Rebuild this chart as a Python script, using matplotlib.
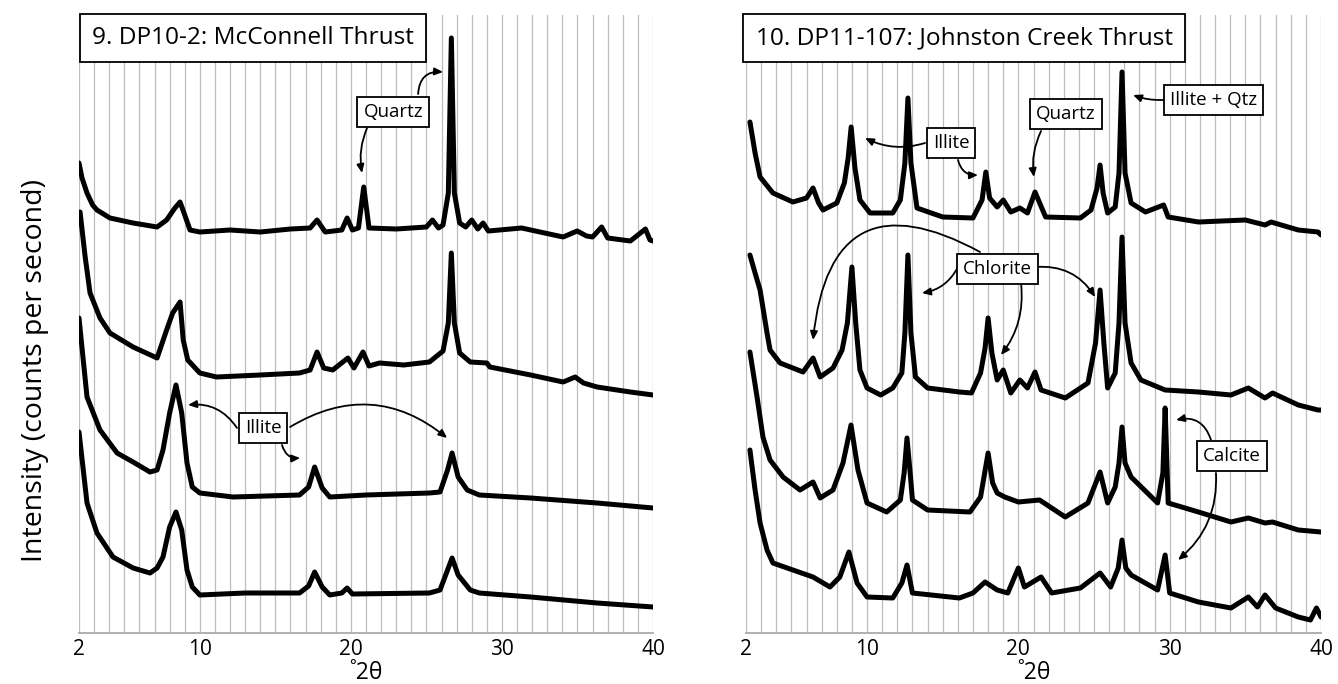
import matplotlib
matplotlib.use("Agg")
import matplotlib.pyplot as plt
from matplotlib.patches import FancyArrowPatch

plt.rcParams['font.family'] = ['Open Sans', 'DejaVu Sans']

# 2-theta ticks shared by both panels
tick_pos = [2, 10, 20, 30, 40]
tick_lbl = ['2', '10', '20', '30', '40']

# --- 9. DP10-2: McConnell Thrust (traces top to bottom, offset intensity) ---
mc1_x = [2.0, 2.2, 2.53, 2.9, 3.19, 4.05, 5.58, 7.17, 7.8, 8.35, 8.69, 9.0, 9.35, 10.0,
         12.0, 14.0, 16.0, 17.3, 17.76, 18.3, 19.4, 19.75, 20.1, 20.5, 20.85, 21.2, 23.0,
         25.0, 25.4, 25.8, 26.1, 26.45, 26.65, 26.85, 27.2, 27.6, 28.0, 28.4, 28.75, 29.1,
         31.3, 34.05, 34.98, 35.6, 36.0, 36.6, 37.0, 38.5, 39.5, 39.8, 40.0]
mc1_y = [470, 455, 440, 428, 423, 415, 410, 406, 413, 425, 431, 418, 403, 401,
         403, 401, 404, 405, 413, 401, 403, 415, 403, 405, 446, 405, 404,
         406, 413, 405, 408, 440, 595, 440, 410, 406, 413, 404, 410, 402,
         405, 396, 402, 397, 396, 406, 395, 392, 404, 393, 392]

mc2_x = [2.07, 2.4, 2.73, 3.39, 4.05, 5.58, 7.17, 7.8, 8.2, 8.69, 8.9, 9.2, 10.0, 11.1,
         14.0, 16.6, 17.3, 17.76, 18.2, 18.8, 19.8, 20.2, 20.8, 21.2, 21.9, 23.5, 25.2,
         26.1, 26.45, 26.65, 26.85, 27.2, 27.9, 29.0, 29.2, 31.9, 34.05, 34.85, 35.4,
         36.3, 38.5, 40.0]
mc2_y = [421, 377, 340, 315, 300, 286, 275, 303, 320, 331, 293, 273, 260, 256,
         258, 260, 263, 281, 265, 263, 275, 265, 281, 267, 270, 268, 271,
         282, 310, 380, 310, 280, 271, 270, 266, 258, 251, 256, 250,
         246, 241, 238]

mc3_x = [2.0, 2.53, 3.39, 4.52, 5.58, 6.7, 7.17, 7.56, 8.0, 8.42, 8.8, 9.15, 9.5, 10.0,
         12.2, 16.6, 17.2, 17.6, 18.1, 18.6, 21.0, 25.2, 25.9, 26.4, 26.7, 27.1, 27.7,
         28.5, 31.9, 36.3, 40.0]
mc3_y = [315, 236, 203, 180, 171, 161, 163, 183, 220, 248, 220, 170, 146, 140,
         136, 138, 146, 166, 145, 136, 138, 140, 141, 163, 180, 156, 143,
         138, 135, 130, 125]

mc4_x = [2.0, 2.53, 3.19, 4.25, 5.58, 6.7, 7.17, 7.56, 8.0, 8.42, 8.8, 9.15, 9.5, 10.0,
         13.0, 16.6, 17.2, 17.6, 18.1, 18.6, 19.4, 19.75, 20.1, 25.2, 25.9, 26.4, 26.7,
         27.1, 27.9, 28.5, 31.9, 36.3, 40.0]
mc4_y = [201, 130, 100, 76, 65, 60, 65, 76, 106, 121, 103, 63, 46, 38,
         40, 40, 47, 61, 46, 38, 40, 45, 39, 40, 43, 63, 75,
         58, 43, 40, 36, 30, 26]

# --- 10. DP11-107: Johnston Creek Thrust ---
jc1_x = [2.26, 2.6, 2.93, 3.78, 5.1, 6.0, 6.43, 6.8, 7.09, 8.0, 8.5, 8.75, 8.95, 9.2,
         9.53, 10.2, 11.7, 12.2, 12.5, 12.7, 12.9, 13.3, 15.0, 17.0, 17.6, 17.85, 18.1,
         18.6, 19.0, 19.5, 20.1, 20.6, 21.1, 21.8, 24.1, 24.8, 25.2, 25.4, 25.6, 25.9,
         26.4, 26.65, 26.85, 27.05, 27.45, 28.4, 29.6, 29.9, 31.9, 35.0, 36.3, 36.7,
         38.5, 39.8, 40.0]
jc1_y = [511, 480, 456, 440, 431, 435, 445, 430, 423, 430, 450, 475, 506, 465,
         433, 420, 420, 433, 470, 535, 470, 425, 416, 415, 433, 461, 435,
         426, 433, 421, 425, 420, 441, 416, 415, 423, 445, 468, 440, 420,
         426, 460, 561, 460, 430, 421, 428, 416, 411, 413, 408, 411,
         403, 401, 398]

jc2_x = [2.26, 2.6, 2.93, 3.39, 3.59, 4.25, 5.1, 5.77, 6.43, 6.9, 7.75, 8.35, 8.7, 9.0,
         9.25, 9.53, 10.0, 10.9, 11.7, 12.3, 12.5, 12.7, 12.9, 13.2, 14.0, 16.1, 16.9,
         17.5, 17.8, 18.0, 18.25, 18.6, 19.0, 19.5, 20.1, 20.6, 21.1, 21.5, 23.1, 24.6,
         25.1, 25.4, 25.65, 25.9, 26.4, 26.65, 26.85, 27.05, 27.45, 28.1, 29.7, 31.9,
         34.05, 35.2, 36.3, 36.8, 38.5, 39.8, 40.0]
jc2_y = [378, 360, 343, 300, 283, 270, 265, 261, 275, 256, 265, 283, 310, 366,
         310, 263, 245, 238, 245, 260, 300, 378, 300, 256, 245, 241, 240,
         260, 285, 315, 280, 253, 263, 240, 253, 245, 261, 243, 235, 250,
         290, 343, 290, 245, 260, 310, 396, 310, 270, 253, 243, 241,
         238, 245, 235, 240, 228, 223, 223]

jc3_x = [2.26, 2.73, 3.12, 3.59, 4.45, 5.57, 6.43, 6.9, 7.75, 8.41, 8.94, 9.4, 10.0,
         11.3, 12.2, 12.45, 12.64, 12.85, 13.0, 14.0, 16.8, 17.5, 18.0, 18.3, 18.6,
         19.1, 20.0, 21.4, 23.1, 24.6, 25.4, 25.9, 26.4, 26.65, 26.85, 27.05, 27.45,
         29.0, 29.2, 29.55, 29.7, 29.9, 31.9, 34.05, 35.2, 36.3, 36.8, 38.5, 40.0]
jc3_y = [281, 236, 196, 173, 156, 143, 151, 135, 143, 170, 208, 163, 130,
         121, 133, 160, 195, 160, 133, 123, 121, 136, 180, 150, 140,
         136, 131, 133, 116, 130, 161, 130, 146, 170, 206, 170, 156,
         133, 130, 160, 225, 130, 121, 111, 115, 110, 111, 103, 101]

jc4_x = [2.26, 2.6, 2.93, 3.39, 3.78, 5.1, 6.43, 7.55, 8.2, 8.8, 9.34, 10.0, 11.7, 12.3,
         12.64, 13.0, 16.1, 17.0, 17.8, 18.6, 19.3, 20.0, 20.4, 21.5, 22.2, 24.1, 25.4,
         26.1, 26.6, 26.85, 27.1, 27.45, 29.2, 29.7, 30.0, 31.9, 34.05, 35.2, 35.8,
         36.3, 37.0, 38.5, 39.3, 39.7, 40.0]
jc4_y = [183, 143, 110, 83, 70, 63, 56, 46, 56, 81, 50, 36, 35, 50,
         68, 40, 35, 40, 51, 43, 40, 65, 46, 56, 40, 45, 60,
         46, 65, 93, 65, 58, 43, 78, 40, 31, 25, 36, 26,
         38, 25, 16, 13, 25, 16]

left_traces = [(mc1_x, mc1_y), (mc2_x, mc2_y), (mc3_x, mc3_y), (mc4_x, mc4_y)]
right_traces = [(jc1_x, jc1_y), (jc2_x, jc2_y), (jc3_x, jc3_y), (jc4_x, jc4_y)]

W, H = 1338, 684
fig = plt.figure(figsize=(W / 100, H / 100), dpi=100)
ax1 = fig.add_axes([79 / W, 51 / H, 574 / W, 618 / H])
ax2 = fig.add_axes([746 / W, 51 / H, 575 / W, 618 / H])


def setup(ax):
    ax.set_xlim(2, 40)
    ax.set_ylim(0, 618)
    for d in range(2, 41):
        ax.axvline(d, color='#bdbdbd', lw=0.9, zorder=0)
    for s in ['left', 'right', 'top']:
        ax.spines[s].set_visible(False)
    ax.spines['bottom'].set_color('#b0b0b0')
    ax.spines['bottom'].set_linewidth(1.4)
    ax.set_yticks([])
    ax.set_xticks(tick_pos)
    ax.set_xticklabels(tick_lbl, fontsize=15)
    ax.tick_params(axis='x', length=0, pad=4)
    ax.set_xlabel('˚2θ', fontsize=16.5, labelpad=1)


def box(ax, x, y, s, size=13.5):
    ax.text(x, y, s, fontsize=size, ha='center', va='center', zorder=5,
            bbox=dict(boxstyle='square,pad=0.32', fc='white', ec='black', lw=1.3))


def arrow(ax, start, end, rad):
    ax.add_patch(FancyArrowPatch(start, end, connectionstyle=f'arc3,rad={rad}',
                                 arrowstyle='-|>,head_length=5,head_width=2.2',
                                 color='black', lw=1.3, zorder=4, shrinkA=0, shrinkB=0))


for ax, traces in [(ax1, left_traces), (ax2, right_traces)]:
    setup(ax)
    for xs, ys in traces:
        ax.plot(xs, ys, color='black', lw=3.6, solid_joinstyle='round',
                solid_capstyle='round', zorder=3)

fig.text(35 / W, 1 - 370 / H, 'Intensity (counts per second)', fontsize=20.5,
         rotation=90, ha='center', va='center')

# panel titles
fig.text(253 / W, 1 - 38 / H, '9. DP10-2: McConnell Thrust', fontsize=17.6,
         ha='center', va='center',
         bbox=dict(boxstyle='square,pad=0.5', fc='white', ec='black', lw=1.3))
fig.text(964 / W, 1 - 38 / H, '10. DP11-107: Johnston Creek Thrust', fontsize=17.6,
         ha='center', va='center',
         bbox=dict(boxstyle='square,pad=0.5', fc='white', ec='black', lw=1.3))

# left panel labels
box(ax1, 22.8, 521, 'Quartz')
arrow(ax1, (24.45, 539), (26.1, 561), -0.5)
arrow(ax1, (21.07, 505), (20.74, 460), 0.15)
box(ax1, 14.19, 205, 'Illite')
arrow(ax1, (12.46, 205), (9.22, 228), 0.3)
arrow(ax1, (15.44, 188), (16.64, 175), 0.4)
arrow(ax1, (15.97, 206), (26.37, 195), -0.35)

# right panel labels
box(ax2, 15.55, 490, 'Illite')
arrow(ax2, (13.83, 490), (9.87, 495), -0.2)
arrow(ax2, (16.01, 473), (17.33, 458), 0.4)
box(ax2, 23.15, 519, 'Quartz')
arrow(ax2, (21.5, 502), (21.03, 456), 0.15)
box(ax2, 32.87, 533, 'Illite + Qtz')
arrow(ax2, (29.56, 533), (27.58, 538), -0.1)
box(ax2, 18.59, 364, 'Chlorite')
arrow(ax2, (17.47, 381), (6.43, 293), 0.75)
arrow(ax2, (16.01, 366), (13.63, 340), -0.25)
arrow(ax2, (21.1, 366), (25.07, 336), -0.3)
arrow(ax2, (20.18, 349), (18.85, 278), -0.2)
box(ax2, 34.12, 177, 'Calcite')
arrow(ax2, (32.73, 193), (30.42, 213), 0.45)
arrow(ax2, (33.06, 160), (30.55, 73), -0.25)

fig.savefig('out.png', dpi=100)
